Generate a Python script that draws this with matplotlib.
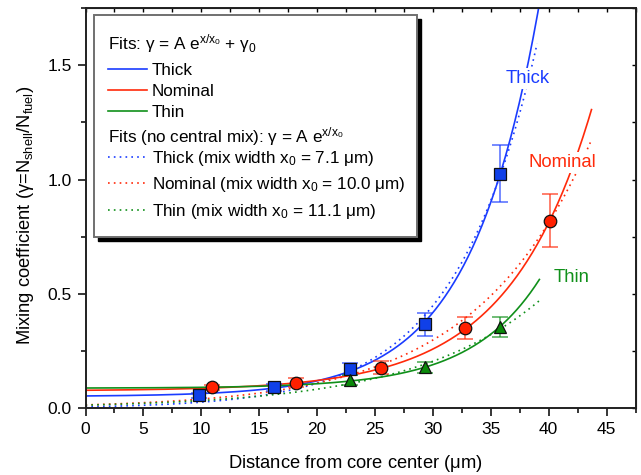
import numpy as np
import matplotlib
matplotlib.use("Agg")
import matplotlib.pyplot as plt
from matplotlib.patches import Rectangle
from matplotlib.lines import Line2D

plt.rcParams['font.family'] = ['Liberation Sans', 'DejaVu Sans']
plt.rcParams['mathtext.fontset'] = 'custom'
plt.rcParams['mathtext.rm'] = 'Liberation Sans'
plt.rcParams['mathtext.it'] = 'Liberation Sans:italic'
plt.rcParams['mathtext.default'] = 'regular'

# measured points (distance in um, mixing coefficient, error)
thick_x = [9.8, 16.3, 22.8, 29.3, 35.8]
thick_y = [0.057, 0.092, 0.173, 0.367, 1.025]
thick_err = [0.010, 0.015, 0.026, 0.051, 0.124]

nom_x = [10.9, 18.2, 25.5, 32.8, 40.1]
nom_y = [0.092, 0.112, 0.177, 0.352, 0.820]
nom_err = [0.012, 0.020, 0.029, 0.047, 0.116]

thin_x = [22.8, 29.3, 35.8]
thin_y = [0.124, 0.179, 0.357]
thin_err = [0.020, 0.025, 0.044]

# fit parameters: gamma = A exp(x/x0) + g0   (solid)
fit_A = [0.00239, 0.00282, 0.000691]
fit_x0 = [5.96, 7.19, 6.0]
fit_g0 = [0.0516, 0.076, 0.088]
fit_xmax = [40.0, 43.7, 39.2]

# fits without central mix: gamma = A exp(x/x0)   (dotted)
nc_A = [0.00656, 0.01485, 0.01377]
nc_x0 = [7.1, 10.0, 11.1]
nc_xmax = [39.0, 43.6, 39.2]

names = ['Thick', 'Nominal', 'Thin']
colors = ['#1a3cff', '#ff2a0a', '#10901a']
face = ['#1040e8', '#ff2000', '#0a8a0a']
markers = ['s', 'o', '^']
msize = [8, 9, 8.5]
label_pos = [(38.2, 1.443), (41.2, 1.076), (42.0, 0.574)]

fig = plt.figure(figsize=(6.41, 4.75), dpi=100)
W, H = 641.0, 475.0
ax = fig.add_axes([85.5 / W, 1 - 408.3 / H, 550 / W, 400.3 / H])

for i in range(3):
    x = np.linspace(0, fit_xmax[i], 300)
    ax.plot(x, fit_A[i] * np.exp(x / fit_x0[i]) + fit_g0[i], color=colors[i], lw=1.2, zorder=2)
    x = np.linspace(0, nc_xmax[i], 300)
    ax.plot(x, nc_A[i] * np.exp(x / nc_x0[i]), color=colors[i], lw=1.2,
            ls=(0, (1, 2.5)), zorder=2)

pts = [(thick_x, thick_y, thick_err), (nom_x, nom_y, nom_err), (thin_x, thin_y, thin_err)]
for i, (px, py, pe) in enumerate(pts):
    ax.errorbar(px, py, yerr=pe, fmt='none', ecolor=colors[i], alpha=0.7,
                elinewidth=1.2, capsize=5.5, capthick=1.2, zorder=3)
    ax.plot(px, py, ls='none', marker=markers[i], ms=msize[i], mfc=face[i],
            mec='#101010', mew=0.9, zorder=4)
    ax.text(label_pos[i][0], label_pos[i][1], names[i], color=colors[i], fontsize=13.3,
            ha='center', va='center', zorder=5,
            bbox=dict(facecolor='white', edgecolor='none', pad=1.5))

ax.set_xlim(0, 47.5)
ax.set_ylim(0, 1.75)
ax.set_xticks(np.arange(0, 46, 5))
ax.set_xticks(np.arange(0, 47.6, 2.5), minor=True)
ax.set_yticks([0.0, 0.5, 1.0, 1.5])
ax.set_yticks(np.arange(0, 1.76, 0.25), minor=True)
ax.set_yticklabels(['0.0', '0.5', '1.0', '1.5'])
ax.tick_params(which='major', direction='out', length=6, width=1.1, labelsize=12.5, pad=4)
ax.tick_params(which='minor', direction='out', length=3.5, width=1.1)
for s in ax.spines.values():
    s.set_linewidth(1.4)
    s.set_color('#202020')

top = ax.secondary_xaxis('top')
top.set_xticks(np.arange(0, 47.6, 2.5))
top.tick_params(direction='in', length=3, width=1, labeltop=False)
top.set_xticklabels([])
right = ax.secondary_yaxis('right')
right.set_yticks(np.arange(0, 1.76, 0.25))
right.tick_params(direction='in', length=3, width=1, labelright=False)
right.set_yticklabels([])

ax.set_xlabel(r'Distance from core center ($\mu$m)', fontsize=13.2)
ax.xaxis.set_label_coords(0.49, -0.112)
ax.set_ylabel(r'Mixing coefficient ($\gamma$=N$_{shell}$/N$_{fuel}$)', fontsize=13.2)
ax.yaxis.set_label_coords(-0.09, 0.483)

# legend box, drawn in figure pixels
def fx(p):
    return p / W

def fy(p):
    return 1 - p / H

bx0, by0, bx1, by1 = 93.5, 15, 416.5, 237
fig.add_artist(Rectangle((fx(bx0 + 4), fy(by1 + 4)), (bx1 - bx0) / W, (by1 - by0) / H,
                         transform=fig.transFigure, facecolor='black', edgecolor='black', zorder=10))
fig.add_artist(Rectangle((fx(bx0), fy(by1)), (bx1 - bx0) / W, (by1 - by0) / H,
                         transform=fig.transFigure, facecolor='white', edgecolor='#707070',
                         lw=1.4, zorder=11))

leg_fs = 12.3
fig.text(fx(108), fy(49.5), r'Fits: $\gamma$ = A e$^{x/x_0}$ + $\gamma_0$', fontsize=leg_fs,
         va='baseline', ha='left', zorder=12)
fig.text(fx(108), fy(142), r'Fits (no central mix): $\gamma$ = A e$^{x/x_0}$', fontsize=leg_fs,
         va='baseline', ha='left', zorder=12)
solid_rows = [69, 90, 111]
dot_rows = [157, 183, 210]
dot_labels = [r'Thick (mix width x$_0$ = 7.1 $\mu$m)',
              r'Nominal (mix width x$_0$ = 10.0 $\mu$m)',
              r'Thin (mix width x$_0$ = 11.1 $\mu$m)']
for i in range(3):
    fig.add_artist(Line2D([fx(108), fx(147)], [fy(solid_rows[i])] * 2, color=colors[i],
                          lw=1.2, zorder=12))
    fig.text(fx(152), fy(solid_rows[i] + 6.2), names[i], fontsize=leg_fs, va='baseline',
             ha='left', zorder=12)
    fig.add_artist(Line2D([fx(108), fx(147)], [fy(dot_rows[i])] * 2, color=colors[i],
                          lw=1.2, ls=(0, (1, 2.5)), zorder=12))
    fig.text(fx(152), fy(dot_rows[i] + 6.2), dot_labels[i], fontsize=leg_fs, va='baseline',
             ha='left', zorder=12)

plt.savefig("out.png", dpi=100)
